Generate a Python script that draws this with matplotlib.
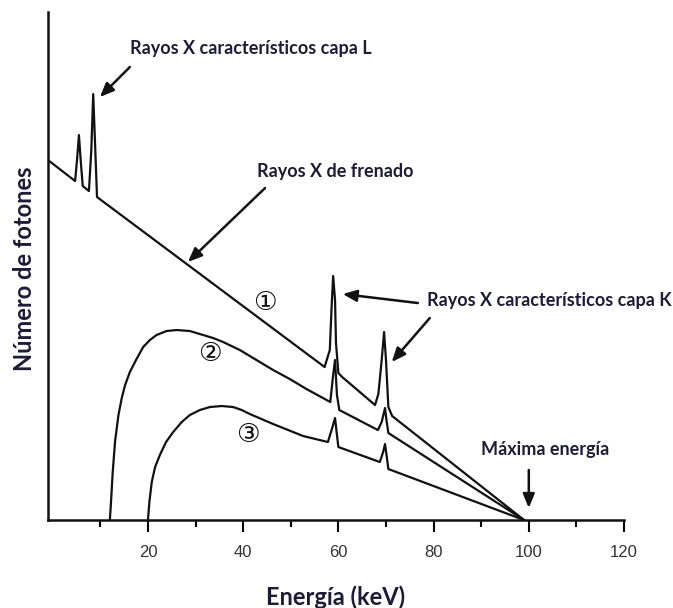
import matplotlib.pyplot as plt

# Espectro de rayos X (unidades relativas)
# Curva 1: sin filtrar, con picos L y K
e1 = [-1, 4.7, 5.1, 5.5, 5.9, 6.3, 7.6, 8.1, 8.5, 8.9, 9.3, 57.1, 58.2, 58.55, 58.9,
      59.3, 59.5, 60.0, 60.8, 67.7, 68.4, 69.1, 69.6, 70.0, 70.5, 71.3, 99]
n1 = [360, 339, 360, 385, 358, 334, 329, 370, 426, 375, 323, 153, 170, 210, 244,
      220, 177, 147, 143, 115, 126, 160, 188, 160, 113, 104, 0]

# Curva 2: filtrado moderado
e2 = [12.0, 12.2, 12.6, 13.1, 13.8, 14.5, 15.2, 16.2, 17.6, 19.0, 20.4, 21.8, 23.9,
      26.0, 28.8, 30.9, 33.7, 35.8, 39.3, 42.8, 46.3, 49.8, 53.3, 58.3,
      58.9, 59.3, 59.7, 60.2, 68.3, 69.1, 69.8, 70.1, 70.5, 99]
n2 = [0, 15, 48, 79, 105, 122, 135, 148, 161, 173, 180, 185, 189,
      190, 189, 186, 182, 178, 170, 160, 150, 141, 131, 118,
      145, 160, 125, 110, 90, 98, 112, 100, 87, 0]

# Curva 3: filtrado fuerte
e3 = [20.0, 20.3, 20.8, 21.5, 22.5, 23.8, 25.3, 27.1, 28.8, 30.9, 33.0, 35.5, 37.9,
      39.7, 41.4, 46.3, 52.6, 57.8, 58.7, 59.3, 59.7, 60.0,
      68.7, 69.4, 69.8, 70.2, 70.5, 99]
n3 = [0, 18, 38, 53, 65, 78, 88, 98, 105, 110, 113, 114, 113,
      110, 106, 96, 84, 78, 92, 102, 85, 73,
      58, 68, 76, 62, 51, 0]

major_ticks = [20, 40, 60, 80, 100, 120]
minor_ticks = [10, 30, 50, 70, 90, 110]

text_color = '#1c1c36'
line_color = '#111111'

fig = plt.figure(figsize=(6.73, 6.08), dpi=100)
ax = fig.add_axes([0.0713, 0.1447, 0.8559, 0.8355])

for e, n in [(e1, n1), (e2, n2), (e3, n3)]:
    ax.plot(e, n, color=line_color, lw=1.6, solid_joinstyle='round')

ax.set_xlim(-1, 120)
ax.set_ylim(0, 508)
ax.set_xticks(major_ticks)
ax.set_xticks(minor_ticks, minor=True)
ax.set_yticks([])
ax.tick_params(axis='x', which='major', length=8.5, width=1.5, direction='out',
               pad=9.5, labelsize=12, labelcolor='#333333')
ax.tick_params(axis='x', which='minor', length=5, width=1.5, direction='out')
for lab in ax.get_xticklabels():
    lab.set_fontfamily('Liberation Sans')
for side in ['top', 'right']:
    ax.spines[side].set_visible(False)
for side in ['left', 'bottom']:
    ax.spines[side].set_linewidth(1.8)
    ax.spines[side].set_color(line_color)

arrow = dict(arrowstyle='-|>,head_length=0.6,head_width=0.25', color=line_color,
             lw=1.8, mutation_scale=14, shrinkA=0, shrinkB=0)
lab = dict(fontfamily='Lato', fontweight='bold', fontsize=13, color=text_color,
           ha='center', va='center')

ax.text(41.6, 472, 'Rayos X característicos capa L', **lab)
ax.annotate('', xy=(9.9, 423), xytext=(16.2, 453), arrowprops=arrow)

ax.text(59.3, 349, 'Rayos X de frenado', **lab)
ax.annotate('', xy=(28.4, 258), xytext=(44.6, 332), arrowprops=arrow)

ax.text(104.4, 220, 'Rayos X característicos capa K', clip_on=False, **lab)
ax.annotate('', xy=(60.9, 226), xytext=(76.7, 217), arrowprops=arrow)
ax.annotate('', xy=(71.2, 158), xytext=(79.2, 202), arrowprops=arrow)

ax.text(103.4, 71, 'Máxima energía', **lab)
ax.annotate('', xy=(100, 12), xytext=(100, 50), arrowprops=arrow)

circ = dict(fontfamily=['DejaVu Sans', 'Noto Sans CJK JP'], fontsize=19,
            color=line_color, ha='center', va='center')
ax.text(44.6, 217, '①', **circ)
ax.text(33.0, 166, '②', **circ)
ax.text(41.0, 85, '③', **circ)

fig.text(0.4993, 0.0181, 'Energía (keV)', fontfamily='Lato', fontweight='bold',
         fontsize=17, color=text_color, ha='center', va='center')
fig.text(0.0371, 0.5576, 'Número de fotones', fontfamily='Lato', fontweight='bold',
         fontsize=17, color=text_color, ha='center', va='center', rotation=90)

fig.savefig('out.png', dpi=100)
